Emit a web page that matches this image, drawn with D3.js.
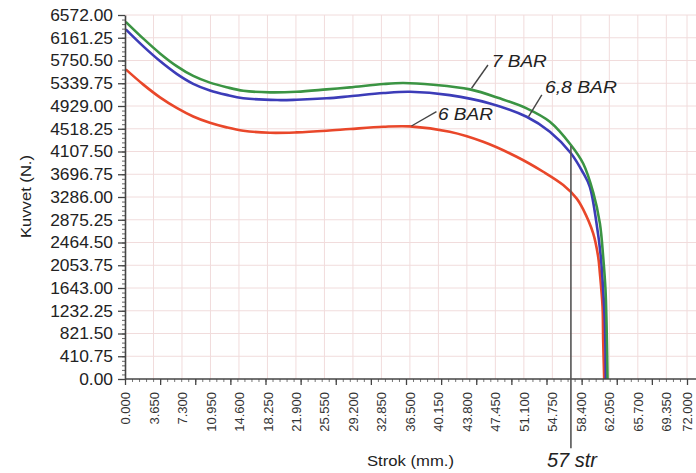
<!DOCTYPE html>
<html><head><meta charset="utf-8">
<script src="https://cdn.jsdelivr.net/npm/d3@7"></script>
<style>body{margin:0;background:#fff}svg{display:block}</style>
</head><body>
<svg id="c" width="696" height="473"></svg>
<script>
// ---- data ----
const xLabelTicks = d3.range(0, 20).map(i => +(i * 3.65).toFixed(3)).concat([72]);
const yLabelTicks = d3.range(0, 17).map(i => +(i * 410.75).toFixed(2));

const greenX = [0.1, 2.35, 4.48, 6.62, 8.74, 10.88, 13.02, 15.15, 18.57, 21.99, 25.83, 28.82, 33.1, 35.64, 39.5, 44.19, 48.0, 51.45, 54.43, 57.1, 58.7, 60.0, 60.84, 61.26, 61.56, 61.69, 61.82];
const greenY = [6449, 6145, 5879, 5650, 5472, 5351, 5268, 5204, 5175, 5186, 5229, 5265, 5325, 5343, 5312, 5229, 5067, 4886, 4644, 4230, 3890, 3360, 2810, 2207, 1606, 1005, 0];

const blueX = [0.1, 2.35, 4.48, 6.62, 8.74, 10.88, 13.02, 15.15, 19.5, 22.0, 25.83, 28.82, 33.1, 36.5, 41.6, 46.76, 51.45, 54.43, 57.1, 58.7, 59.55, 60.41, 60.96, 61.26, 61.48, 61.6];
const blueY = [6312, 6005, 5740, 5510, 5330, 5210, 5130, 5070, 5036, 5042, 5068, 5105, 5163, 5186, 5126, 4976, 4735, 4464, 4080, 3720, 3471, 2810, 2207, 1606, 1005, 0];

const redX = [0.1, 2.35, 4.48, 6.62, 8.74, 10.88, 13.02, 15.15, 18.57, 21.99, 25.83, 28.82, 33.1, 36.5, 41.6, 45.88, 50.17, 53.58, 56.14, 57.85, 58.7, 59.98, 60.62, 60.84, 61.18, 61.26, 61.39];
const redY = [5590, 5315, 5085, 4895, 4740, 4626, 4543, 4482, 4446, 4453, 4482, 4513, 4554, 4561, 4464, 4283, 4013, 3742, 3502, 3262, 3062, 2630, 2207, 1908, 1305, 704, 0];

const seriesNames = ["7 BAR", "6,8 BAR", "6 BAR"];
const seriesColors = ["#3b9443", "#3c3cb8", "#e9472a"];
// annotation: [leader start, leader end, text position] in data units
const annotX = [[44.4, 46.5, 47.0], [51.7, 53.4, 53.8], [36.7, 39.9, 40.1]];
const annotY = [[5249, 5669, 5638], [4736, 5128, 5158], [4568, 4826, 4676]];
const markerX = 57;
const markerLabel = "57 str";
const xTitle = "Strok (mm.)";
const yTitle = "Kuvvet (N.)";

// ---- chart ----
const svg = d3.select("#c");
const x = d3.scaleLinear().domain([0, 72]).range([125, 687]);
const y = d3.scaleLinear().domain([0, 6572]).range([379, 15]);
const font = "'Liberation Sans', Arial, Helvetica, sans-serif";
const emW = s => [...s].reduce((a, c) => a + (/[0-9]/.test(c) ? 0.556 : 0.278), 0);

// grid
const g = svg.append("g");
g.selectAll(".vg").data(xLabelTicks.slice(1).concat([75.65])).join("line")
  .attr("x1", d => x(d)).attr("x2", d => x(d)).attr("y1", y(0)).attr("y2", y(6572))
  .attr("stroke", "#f1dcdc").attr("stroke-width", 1);
g.selectAll(".hg").data(yLabelTicks.slice(1)).join("line")
  .attr("x1", x(0)).attr("x2", 696).attr("y1", d => y(d)).attr("y2", d => y(d))
  .attr("stroke", "#f1dcdc").attr("stroke-width", 1);

// lines
const line = d3.line().x(d => x(d[0])).y(d => y(d[1])).curve(d3.curveCatmullRom.alpha(0.5));
const sets = [d3.zip(greenX, greenY), d3.zip(blueX, blueY), d3.zip(redX, redY)];
[2, 1, 0].forEach(i => {
  svg.append("path").datum(sets[i]).attr("d", line)
    .attr("fill", "none").attr("stroke", seriesColors[i]).attr("stroke-width", 2.6)
    .attr("stroke-linejoin", "round");
});

// y axis
const yMinor = d3.range(0, 6572.01, 410.75 / 5);
svg.append("g").attr("transform", `translate(${x(0)},0)`)
  .call(d3.axisLeft(y).tickValues(yMinor).tickSize(3).tickFormat(""))
  .call(a => a.select(".domain").remove())
  .selectAll("line").attr("stroke", "#666");
const ya = svg.append("g").attr("transform", `translate(${x(0)},0)`)
  .call(d3.axisLeft(y).tickValues(yLabelTicks).tickSize(7).tickSizeOuter(0).tickPadding(5).tickFormat(d => d.toFixed(2)));
ya.select(".domain").attr("stroke", "#444").attr("stroke-width", 1.6);
ya.selectAll("line").attr("stroke", "#444").attr("stroke-width", 1.3);
ya.selectAll("text").attr("font-family", font).attr("font-size", 16.5).attr("fill", "#222")
  .attr("textLength", function () { return emW(this.textContent) * 17.4; })
  .attr("lengthAdjust", "spacingAndGlyphs");

// x axis minor/major tick marks
const xa2 = svg.append("g").attr("transform", `translate(0,${y(0)})`)
  .call(d3.axisBottom(x).tickValues(d3.range(0, 72.01, 0.9)).tickSize(3).tickFormat(""));
xa2.select(".domain").remove();
xa2.selectAll("line").attr("stroke", "#777");
const xa3 = svg.append("g").attr("transform", `translate(0,${y(0)})`)
  .call(d3.axisBottom(x).tickValues(d3.range(0, 72.01, 4.5)).tickSize(6).tickFormat(""));
xa3.select(".domain").remove();
xa3.selectAll("line").attr("stroke", "#444").attr("stroke-width", 1.3);
// x axis labels
const xa = svg.append("g").attr("transform", `translate(0,${y(0)})`)
  .call(d3.axisBottom(x).tickValues(xLabelTicks).tickSize(0).tickSizeOuter(0).tickFormat(d3.format(".3f")));
xa.select(".domain").attr("stroke", "#444").attr("stroke-width", 1.6).attr("d", `M${x(0)},0H696`);
xa.selectAll("text")
  .attr("font-family", font).attr("font-size", 13).attr("fill", "#333")
  .attr("text-anchor", "end").attr("transform", "translate(0,13) rotate(-90)")
  .attr("x", 0).attr("y", 0).attr("dy", "0.35em")
  .attr("textLength", function () { return emW(this.textContent) * 13; })
  .attr("lengthAdjust", "spacingAndGlyphs");

// axis titles
svg.append("text").attr("x", 367).attr("y", 466).text(xTitle)
  .attr("font-family", font).attr("font-size", 15).attr("fill", "#222")
  .attr("textLength", 87).attr("lengthAdjust", "spacingAndGlyphs");
svg.append("text").attr("transform", "translate(31,238) rotate(-90)").text(yTitle)
  .attr("font-family", font).attr("font-size", 15).attr("fill", "#222")
  .attr("textLength", 83).attr("lengthAdjust", "spacingAndGlyphs");

// marker line
svg.append("line").attr("x1", x(markerX) + 1).attr("x2", x(markerX) + 1)
  .attr("y1", y(4207)).attr("y2", y(-1250))
  .attr("stroke", "#555").attr("stroke-width", 1.6);
svg.append("text").attr("x", x(markerX) + 2).attr("y", 467).attr("text-anchor", "middle")
  .attr("font-family", font).attr("font-style", "italic").attr("font-size", 20).attr("fill", "#222")
  .text(markerLabel);

// annotations
const tw = [55, 72, 55];
seriesNames.forEach((name, i) => {
  svg.append("line")
    .attr("x1", x(annotX[i][0])).attr("y1", y(annotY[i][0]))
    .attr("x2", x(annotX[i][1])).attr("y2", y(annotY[i][1]))
    .attr("stroke", "#444").attr("stroke-width", 1.4);
  svg.append("text").attr("x", x(annotX[i][2])).attr("y", y(annotY[i][2]))
    .attr("font-family", font).attr("font-style", "italic").attr("font-size", 17).attr("fill", "#222")
    .attr("textLength", tw[i]).attr("lengthAdjust", "spacingAndGlyphs")
    .text(name);
});
</script>
</body></html>
